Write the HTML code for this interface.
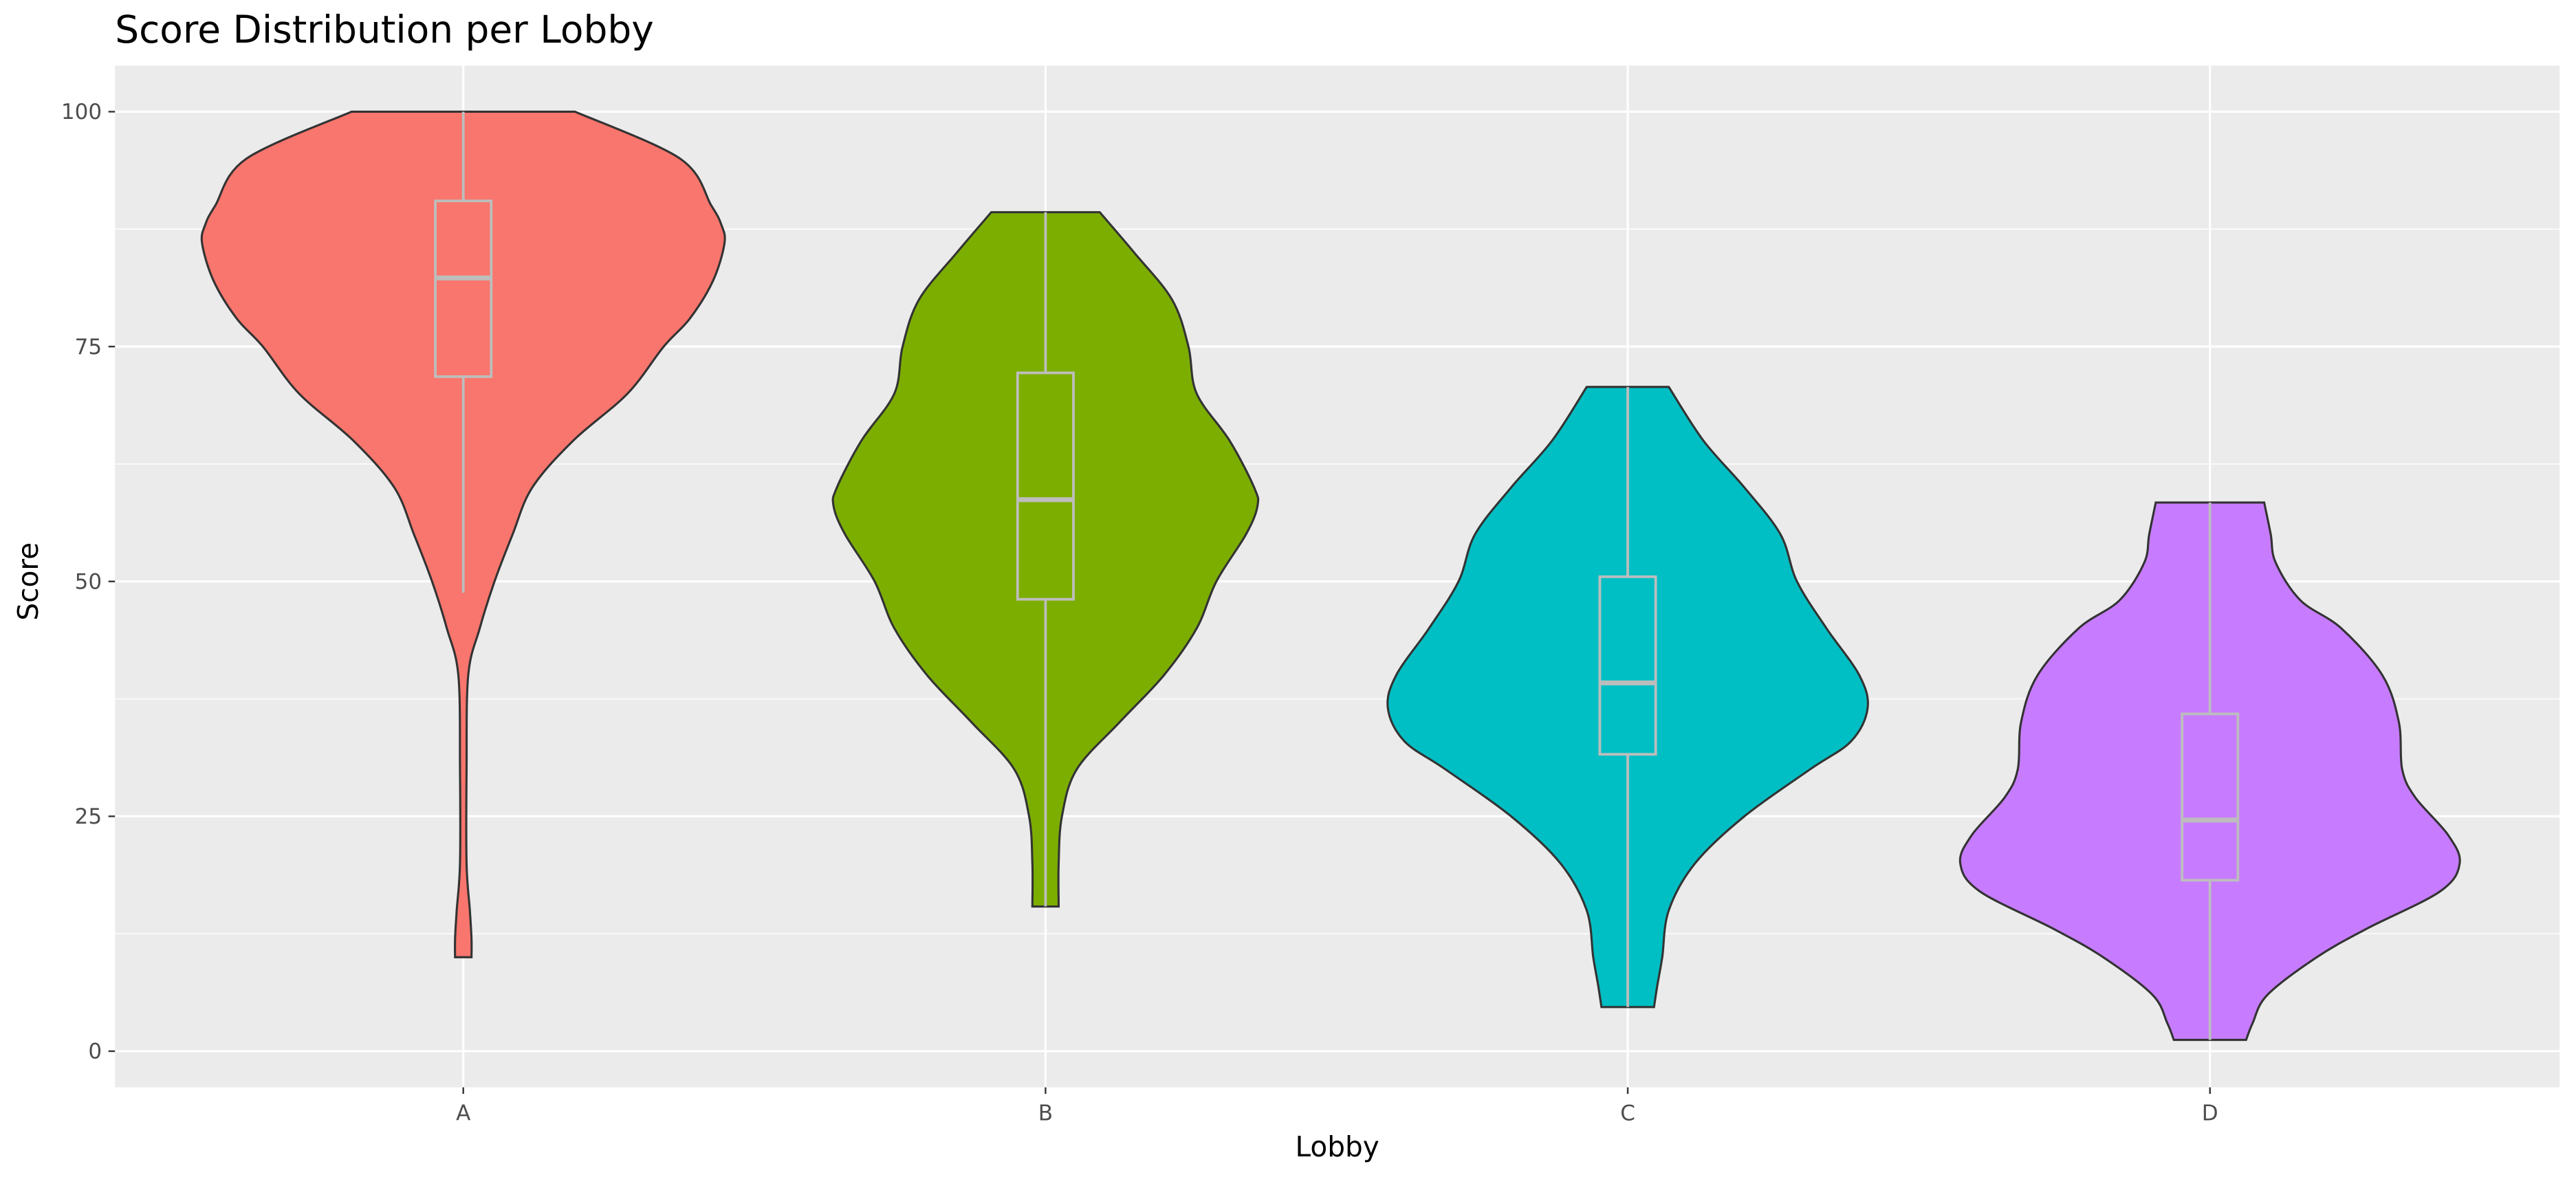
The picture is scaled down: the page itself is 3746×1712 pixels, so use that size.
<!DOCTYPE html>
<html><head><meta charset="utf-8"><style>
html,body{margin:0;padding:0;background:#fff}
svg{display:block;font-family:"DejaVu Sans","Liberation Sans",sans-serif}
</style></head><body>
<svg id="chart" width="3746" height="1712" viewBox="0 0 1568 716.6" preserveAspectRatio="none">
<rect x="0" y="0" width="1568" height="716.6" fill="#fff"/>
<text x="70" y="26" font-size="23" fill="#000">Score Distribution per Lobby</text>
<rect x="70" y="40" width="1488" height="622" fill="#EBEBEB"/>
<g id="grid"></g>
<g id="violins"></g>
<g id="axes"></g>
<text x="814" y="704" font-size="17" text-anchor="middle" fill="#000">Lobby</text>
<text transform="translate(23,354) rotate(-90)" font-size="17" text-anchor="middle" fill="#000">Score</text>
</svg>
<script>
const categories = ["A","B","C","D"];
const colors = ["#F8766D","#7CAE00","#00BFC4","#C77CFF"];
const yTicks = [0,25,50,75,100];
const yMinor = [12.5,37.5,62.5,87.5];
// density profiles: [score, half-width]
const densityA = [[100,68],[95,132],[90,151],[88,157],[86,159],[82,152],[78,138],[75,122],[70,100],[65,67],[60,42],[55,30],[50,19],[45,10],[40,3],[30,2],[20,2],[15,4],[12,5],[10,5]];
const densityB = [[89.3,33],[85,54],[80,77],[75,87],[70,92],[65,112],[60,127],[58,129],[55,122],[50,104],[45,92],[40,72],[35,45],[30,19],[25,10],[20,8],[15.4,8]];
const densityC = [[70.7,25],[65,46],[60,71],[55,93],[50,103],[45,121],[40,141],[36.5,146],[33,136],[30,111],[25,71],[20,41],[15,25],[10,21],[7,18],[4.7,16]];
const densityD = [[58.4,33],[55,37],[52,40],[48,55],[45,80],[40,105],[35,115],[30,117],[27,125],[23,145],[20,152],[17,140],[13,95],[10,65],[6,35],[3,26],[1.2,22]];
const densities = [densityA,densityB,densityC,densityD];
const q1 = [71.8,48.1,31.6,18.2];
const medians = [82.3,58.7,39.2,24.6];
const q3 = [90.5,72.2,50.5,35.9];
const whiskerLow = [48.8,15.4,4.7,1.2];
const whiskerHigh = [100,89.3,70.7,58.4];

const NS="http://www.w3.org/2000/svg";
const y = v => 640 - v*5.72;
const x = i => 282 + i*354.4;
function mk(tag, attrs, parent){const e=document.createElementNS(NS,tag);for(const k in attrs)e.setAttribute(k,attrs[k]);parent.appendChild(e);return e;}
const grid=document.getElementById('grid'), vg=document.getElementById('violins'), ax=document.getElementById('axes');
yMinor.forEach(v=>{const l=mk('line',{x1:70,x2:1558,y1:y(v),y2:y(v),stroke:'#fff','stroke-width':0.6},grid);

});
yTicks.forEach(v=>{const l=mk('line',{x1:70,x2:1558,y1:y(v),y2:y(v),stroke:'#fff','stroke-width':1.3},grid);


const t=mk('line',{x1:66,x2:70,y1:y(v),y2:y(v),stroke:'#333','stroke-width':1},ax);


const tx=mk('text',{x:62,y:y(v)+4.5,'font-size':13,'text-anchor':'end',fill:'#4d4d4d'},ax);tx.textContent=v;

});
categories.forEach((c,i)=>{const l=mk('line',{x1:x(i),x2:x(i),y1:40,y2:662,stroke:'#fff','stroke-width':1.3},grid);


const t=mk('line',{x1:x(i),x2:x(i),y1:662,y2:666,stroke:'#333','stroke-width':1},ax);


const tx=mk('text',{x:x(i),y:682,'font-size':13,'text-anchor':'middle',fill:'#4d4d4d'},ax);tx.textContent=c;

});
function smooth(pts){let d='';for(let i=0;i<pts.length-1;i++){const p0=pts[Math.max(0,i-1)],p1=pts[i],p2=pts[i+1],p3=pts[Math.min(pts.length-1,i+2)];
const c1=[p1[0]+(p2[0]-p0[0])/6,p1[1]+(p2[1]-p0[1])/6],c2=[p2[0]-(p3[0]-p1[0])/6,p2[1]-(p3[1]-p1[1])/6];
d+=` C${c1[0]},${c1[1]} ${c2[0]},${c2[1]} ${p2[0]},${p2[1]}`;}return d;}
categories.forEach((c,i)=>{const cx=x(i),den=densities[i];
const right=den.map(p=>[cx+p[1],y(p[0])]);const left=den.slice().reverse().map(p=>[cx-p[1],y(p[0])]);
let d=`M${cx-den[0][1]},${y(den[0][0])} L${right[0][0]},${right[0][1]}`+smooth(right)+` L${left[0][0]},${left[0][1]}`+smooth(left)+'Z';
const v=mk('path',{d:d,fill:colors[i],stroke:'#333','stroke-width':1.3},vg);


const g=mk('g',{stroke:'#bdbdbd','stroke-width':1.6,fill:'none'},vg);


mk('line',{x1:cx,x2:cx,y1:y(whiskerHigh[i]),y2:y(q3[i])},g);
mk('line',{x1:cx,x2:cx,y1:y(q1[i]),y2:y(whiskerLow[i])},g);
mk('rect',{x:cx-17,y:y(q3[i]),width:34,height:y(q1[i])-y(q3[i])},g);
mk('line',{x1:cx-17,x2:cx+17,y1:y(medians[i]),y2:y(medians[i]),'stroke-width':3},g);});
</script>
</body></html>
